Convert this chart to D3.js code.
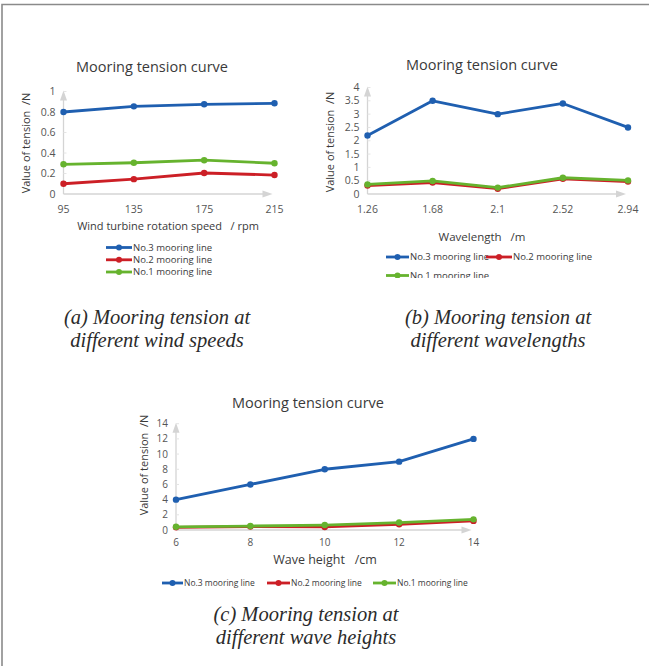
<!DOCTYPE html>
<html>
<head>
<meta charset="utf-8">
<script src="https://cdn.jsdelivr.net/npm/d3@7"></script>
<style>
  body { margin: 0; background: #fff; }
  svg text { font-family: "Open Sans", "Liberation Sans", sans-serif; }
  .cap { font-family: "Liberation Serif", "DejaVu Serif", serif !important; font-style: italic; fill: #2b2b2b; }
</style>
</head>
<body>
<div id="myDiv"></div>
<script>
// ---- data ----
var windSpeeds = ["95", "135", "175", "215"];
var windNo3 = [0.80, 0.855, 0.875, 0.885];
var windNo2 = [0.10, 0.145, 0.205, 0.185];
var windNo1 = [0.29, 0.305, 0.33, 0.30];
var windTicks = [0, 0.2, 0.4, 0.6, 0.8, 1];

var wavelengths = ["1.26", "1.68", "2.1", "2.52", "2.94"];
var waveLNo3 = [2.2, 3.5, 3.0, 3.4, 2.5];
var waveLNo2 = [0.32, 0.43, 0.2, 0.57, 0.47];
var waveLNo1 = [0.36, 0.49, 0.24, 0.61, 0.51];
var waveLTicks = [0, 0.5, 1, 1.5, 2, 2.5, 3, 3.5, 4];

var waveHeights = ["6", "8", "10", "12", "14"];
var waveHNo3 = [4, 6, 8, 9, 12];
var waveHNo2 = [0.35, 0.45, 0.4, 0.75, 1.2];
var waveHNo1 = [0.42, 0.52, 0.65, 0.98, 1.4];
var waveHTicks = [0, 2, 4, 6, 8, 10, 12, 14];

var seriesNames = ["No.3 mooring line", "No.2 mooring line", "No.1 mooring line"];
var colors = ["#1f5fb0", "#cc1f26", "#66b32e"];

var svg = d3.select("#myDiv").append("svg")
  .attr("width", 649).attr("height", 666);

// outer frame (top + left)
svg.append("path").attr("d", "M2,666V4.5H649")
  .attr("fill", "none").attr("stroke", "#8a8a8a").attr("stroke-width", 1.6);

function drawPanel(p){
  var g = svg.append("g");
  var x = d3.scalePoint().domain(p.cats).range(p.xr);
  var y = d3.scaleLinear().domain([0, p.ticks[p.ticks.length-1]]).range(p.yr);
  var x0 = p.xr[0], y0 = p.yr[0];

  // axes with arrows
  g.append("line").attr("x1", x0).attr("x2", x0).attr("y1", y0).attr("y2", p.yr[1] + 6)
    .attr("stroke", "#d4d4d4").attr("stroke-width", 1.3);
  g.append("path").attr("d", "M" + (x0-3.5) + "," + (p.yr[1]+9) + "L" + x0 + "," + (p.yr[1]-1) + "L" + (x0+3.5) + "," + (p.yr[1]+9) + "Z")
    .attr("fill", "#d4d4d4");
  var xe = p.xr[1] - 3;
  g.append("line").attr("x1", x0).attr("x2", xe - 6).attr("y1", y0).attr("y2", y0)
    .attr("stroke", "#d4d4d4").attr("stroke-width", 1.3);
  g.append("path").attr("d", "M" + (xe-9) + "," + (y0-3.5) + "L" + (xe+1) + "," + y0 + "L" + (xe-9) + "," + (y0+3.5) + "Z")
    .attr("fill", "#d4d4d4");

  // tick labels
  g.selectAll(".yt").data(p.ticks).enter().append("text")
    .attr("x", x0 - 8).attr("y", function(d){ return y(d); }).attr("dy", "0.35em")
    .attr("text-anchor", "end").attr("font-size", p.tickSize).attr("fill", "#555")
    .text(function(d){ return d; });
  g.selectAll(".yk").data(p.ticks.slice(1)).enter().append("line")
    .attr("x1", x0).attr("x2", x0 + 3).attr("y1", function(d){ return y(d); }).attr("y2", function(d){ return y(d); })
    .attr("stroke", "#e4e4e4");
  g.selectAll(".xt").data(p.cats).enter().append("text")
    .attr("x", function(d){ return x(d); }).attr("y", p.xTickY)
    .attr("text-anchor", "middle").attr("font-size", p.tickSize).attr("fill", "#555")
    .text(function(d){ return d; });

  // titles
  g.append("text").attr("x", p.title[0]).attr("y", p.title[1]).attr("text-anchor", "middle")
    .attr("font-size", 14.5).attr("fill", "#3a3a3a").text("Mooring tension curve");
  g.append("text").attr("x", p.xlab[0]).attr("y", p.xlab[1]).attr("text-anchor", "middle")
    .attr("font-size", p.xlab[2]).attr("fill", "#3a3a3a").style("white-space", "pre")
    .text(p.xlabel);
  g.append("text").attr("transform", "translate(" + p.ylab[0] + "," + p.ylab[1] + ") rotate(-90)")
    .attr("text-anchor", "middle").attr("font-size", 11).attr("fill", "#3a3a3a").style("white-space", "pre")
    .text("Value of tension  /N");

  // lines
  var line = d3.line().x(function(d, i){ return x(p.cats[i]); }).y(function(d){ return y(d); });
  p.series.forEach(function(s, k){
    g.append("path").attr("d", line(s)).attr("fill", "none")
      .attr("stroke", colors[k]).attr("stroke-width", 2.8).attr("stroke-linejoin", "round");
    g.selectAll(".pt" + k).data(s).enter().append("circle")
      .attr("cx", function(d, i){ return x(p.cats[i]); }).attr("cy", function(d){ return y(d); })
      .attr("r", 3.2).attr("fill", colors[k]);
  });

  // legend
  var lg = g.append("g");
  if (p.clip) {
    var id = "clip" + p.id;
    svg.append("clipPath").attr("id", id).append("rect")
      .attr("x", 0).attr("y", 0).attr("width", 649).attr("height", p.clip);
    lg.attr("clip-path", "url(#" + id + ")");
  }
  p.legend.forEach(function(L, k){
    lg.append("line").attr("x1", L[0]).attr("x2", L[1]).attr("y1", L[2]).attr("y2", L[2])
      .attr("stroke", colors[k]).attr("stroke-width", 2.8);
    lg.append("circle").attr("cx", (L[0] + L[1]) / 2).attr("cy", L[2]).attr("r", 3).attr("fill", colors[k]);
    lg.append("text").attr("x", L[1] + 1).attr("y", L[2]).attr("dy", "0.35em")
      .attr("font-size", p.legSize).attr("fill", "#3a3a3a").text(seriesNames[k]);
  });

  // caption
  p.caption.forEach(function(c, i){
    svg.append("text").attr("class", "cap").attr("x", p.capX).attr("y", p.capY + i * 23)
      .attr("text-anchor", "middle").attr("font-size", 20.5).text(c);
  });
}

drawPanel({
  id: "a", cats: windSpeeds, series: [windNo3, windNo2, windNo1], ticks: windTicks,
  xr: [63.5, 274.5], yr: [194, 91.5], xTickY: 213, tickSize: 10.5,
  title: [152, 72], xlab: [168, 230, 11], xlabel: "Wind turbine rotation speed   / rpm", ylab: [30, 143],
  legend: [[106, 132, 247.5], [106, 132, 259.8], [106, 132, 272]], legSize: 9.5,
  caption: ["(a) Mooring tension at", "different wind speeds"], capX: 157, capY: 324
});

drawPanel({
  id: "b", cats: wavelengths, series: [waveLNo3, waveLNo2, waveLNo1], ticks: waveLTicks,
  xr: [367.5, 628], yr: [194, 87.5], xTickY: 213, tickSize: 10.5,
  title: [482, 70], xlab: [482, 241, 11.5], xlabel: "Wavelength   /m", ylab: [334, 142],
  legend: [[386, 409, 257], [486, 512, 257], [386, 409, 275.5]], legSize: 9.5, clip: 278,
  caption: ["(b) Mooring tension at", "different wavelengths"], capX: 498, capY: 324
});

drawPanel({
  id: "c", cats: waveHeights, series: [waveHNo3, waveHNo2, waveHNo1], ticks: waveHTicks,
  xr: [176, 473.5], yr: [530, 423.7], xTickY: 545.5, tickSize: 10,
  title: [308, 408], xlab: [325, 564, 12.5], xlabel: "Wave height   /cm", ylab: [148, 465],
  legend: [[162, 183, 583], [267, 290, 583], [373, 396, 583]], legSize: 8.5,
  caption: ["(c) Mooring tension at", "different wave heights"], capX: 306, capY: 621
});
</script>
</body>
</html>
